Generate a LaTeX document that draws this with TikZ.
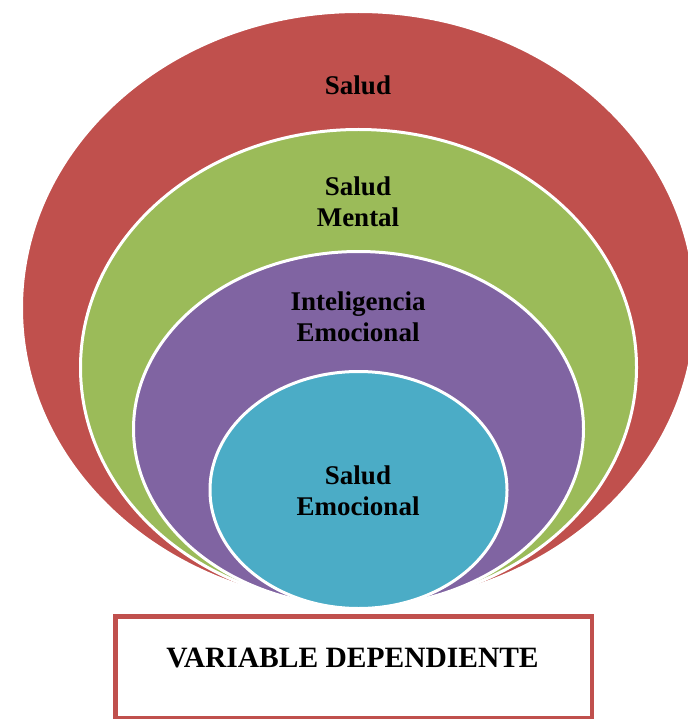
\documentclass[tikz,border=0pt]{standalone}
\usepackage{fontspec}
\setmainfont{Liberation Serif}
\usetikzlibrary{shapes.geometric}
\definecolor{saludred}{HTML}{C0504D}
\definecolor{mentalgreen}{HTML}{9BBB59}
\definecolor{intelpurple}{HTML}{8064A2}
\definecolor{emocyan}{HTML}{4BACC6}

\begin{document}
\begin{tikzpicture}[x=1pt, y=-1pt,
		ring/.style={ellipse, draw=white, line width=3pt, inner sep=0pt},
		lbl/.style={font=\fontsize{27}{31}\selectfont\bfseries, align=center, inner sep=0pt},
		varbox/.style={draw=saludred, line width=4.5pt, inner sep=0pt}]
	\useasboundingbox (0,0) rectangle (687,719);
	% nested ellipses, all touching at the bottom
	\node[ring, fill=saludred,    minimum width=674pt, minimum height=593pt] (salud)  at (358.5,308)   {};
	\node[ring, fill=mentalgreen, minimum width=556pt, minimum height=476pt] (mental) at (358.5,367.5) {};
	\node[ring, fill=intelpurple, minimum width=450pt, minimum height=355pt] (intel)  at (358.5,429)   {};
	\node[ring, fill=emocyan,     minimum width=297pt, minimum height=237pt] (emo)    at (358.5,490)   {};
	% labels
	\node[lbl, anchor=base] (saludtxt) at (358,95) {Salud};
	\node[lbl] (mentaltxt) at (358,202) {Salud\\Mental};
	\node[lbl] (inteltxt)  at (358,317) {Inteligencia\\Emocional};
	\node[lbl] (emotxt)    at (358,491) {Salud\\Emocional};
	% box below
	\node[varbox, minimum width=476.5pt, minimum height=102pt] (dep) at (353.5,667.3) {};
	\node[lbl, anchor=base, font=\fontsize{29.5}{31}\selectfont\bfseries] (deptxt) at (352.5,667) {VARIABLE DEPENDIENTE};
\end{tikzpicture}
\end{document}
